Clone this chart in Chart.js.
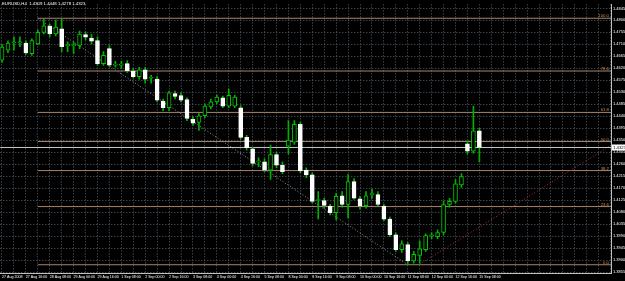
<!DOCTYPE html>
<html>
<head>
<meta charset="utf-8">
<script src="https://cdn.jsdelivr.net/npm/chart.js@4.4.1/dist/chart.umd.min.js"></script>
<style>
  html, body { margin: 0; padding: 0; background: #000; }
  #wrap { width: 625px; height: 281px; position: relative; }
</style>
</head>
<body>
<div id="wrap"><canvas id="chart"></canvas></div>
<script>
// EURUSD H4, 27 Aug 2008 .. 15 Sep 2008
const symbolTitle = 'EURUSD,H4  1.4309 1.4448 1.4278 1.4323';

const opens  = [1.4651,1.4688,1.4716,1.4716,1.4715,1.4675,1.4712,1.4755,1.4779,1.4749,
                1.4768,1.4705,1.4705,1.4706,1.4747,1.4734,1.4724,1.4638,1.4694,1.4632,
                1.4632,1.4638,1.4610,1.4589,1.4614,1.4583,1.4580,1.4497,1.4472,1.4525,
                1.4518,1.4503,1.4429,1.4417,1.4442,1.4475,1.4494,1.4509,1.4478,1.4478,
                1.4472,1.4361,1.4318,1.4269,1.4269,1.4238,1.4296,1.4257,1.4328,1.4343,
                1.4410,1.4238,1.4220,1.4124,1.4124,1.4103,1.4078,1.4142,1.4109,1.4195,
                1.4130,1.4105,1.4146,1.4146,1.4103,1.4054,1.3995,1.3940,1.3959,1.3897,
                1.3918,1.3940,1.3991,1.3988,1.4004,1.4109,1.4121,1.4183,1.4337,1.4309,
                1.4386];
const highs  = [1.4709,1.4723,1.4738,1.4738,1.4723,1.4731,1.4764,1.4805,1.4786,1.4801,
                1.4805,1.4720,1.4720,1.4760,1.4757,1.4749,1.4738,1.4683,1.4705,1.4646,
                1.4646,1.4649,1.4620,1.4624,1.4624,1.4594,1.4590,1.4505,1.4535,1.4535,
                1.4528,1.4509,1.4439,1.4450,1.4487,1.4505,1.4520,1.4516,1.4542,1.4520,
                1.4480,1.4369,1.4324,1.4284,1.4280,1.4332,1.4306,1.4269,1.4424,1.4424,
                1.4417,1.4247,1.4228,1.4158,1.4132,1.4110,1.4151,1.4158,1.4221,1.4206,
                1.4140,1.4158,1.4166,1.4158,1.4110,1.4062,1.4003,1.3973,1.3966,1.3933,
                1.3973,1.3999,1.4003,1.4014,1.4121,1.4132,1.4203,1.4225,1.4347,1.4478,
                1.4395];
const lows   = [1.4642,1.4679,1.4688,1.4701,1.4672,1.4669,1.4709,1.4749,1.4738,1.4742,
                1.4683,1.4683,1.4675,1.4694,1.4727,1.4712,1.4631,1.4631,1.4627,1.4624,
                1.4620,1.4605,1.4583,1.4579,1.4564,1.4564,1.4494,1.4461,1.4461,1.4505,
                1.4494,1.4424,1.4406,1.4387,1.4435,1.4468,1.4487,1.4472,1.4472,1.4472,
                1.4354,1.4313,1.4254,1.4251,1.4232,1.4203,1.4247,1.4225,1.4299,1.4335,
                1.4228,1.4210,1.4114,1.4055,1.4095,1.4070,1.4051,1.4099,1.4058,1.4129,
                1.4092,1.4095,1.4132,1.4103,1.4047,1.3988,1.3933,1.3929,1.3883,1.3889,
                1.3889,1.3933,1.3981,1.3981,1.3996,1.4099,1.4114,1.4173,1.4299,1.4302,
                1.4269];
const closes = [1.4700,1.4715,1.4716,1.4716,1.4678,1.4724,1.4755,1.4780,1.4749,1.4775,
                1.4701,1.4705,1.4705,1.4749,1.4737,1.4722,1.4638,1.4669,1.4632,1.4632,
                1.4632,1.4611,1.4589,1.4614,1.4579,1.4583,1.4501,1.4472,1.4528,1.4515,
                1.4501,1.4432,1.4414,1.4442,1.4478,1.4494,1.4512,1.4478,1.4519,1.4512,
                1.4361,1.4322,1.4263,1.4269,1.4238,1.4296,1.4257,1.4232,1.4351,1.4410,
                1.4235,1.4220,1.4121,1.4124,1.4106,1.4078,1.4140,1.4109,1.4195,1.4133,
                1.4103,1.4142,1.4146,1.4109,1.4054,1.3996,1.3940,1.3961,1.3897,1.3922,
                1.3943,1.3992,1.3991,1.4004,1.4109,1.4121,1.4187,1.4214,1.4309,1.4386,
                1.4323];

const timeLabels = ['27 Aug 2008','27 Aug 16:00','28 Aug 08:00','29 Aug 00:00','29 Aug 16:00',
                    '1 Sep 08:00','2 Sep 00:00','2 Sep 16:00','3 Sep 08:00','4 Sep 00:00',
                    '4 Sep 16:00','5 Sep 08:00','8 Sep 00:00','8 Sep 16:00','9 Sep 08:00',
                    '10 Sep 00:00','10 Sep 16:00','11 Sep 08:00','12 Sep 00:00','12 Sep 16:00',
                    '15 Sep 08:00'];
const priceTicks = [1.4845,1.4800,1.4755,1.4710,1.4665,1.4620,1.4575,1.4530,1.4485,1.4440,
                    1.4395,1.4350,1.4305,1.4260,1.4215,1.4170,1.4125,1.4080,1.4035,1.3990,
                    1.3945,1.3900,1.3855];

// fibonacci retracement (high -> low)
const fibHigh = 1.4808;
const fibLow = 1.3883;
const fibLevels = [0, 23.6, 38.2, 50.0, 61.8, 78.6, 100.0];
const fibStartBar = 6;
const fibEndBar = 68;

// red trendline
const trendBars = [70, 102.1];
const trendPrices = [1.3885, 1.4332];

const lastPrice = 1.4323;

//===============
//==== DATA =====
//===============
const bull = opens.map((o, i) => closes[i] >= o);

const bodies = opens.map((o, i) => ({ x: i, y: [o, closes[i]] }));
const wicks = lows.map((l, i) => ({ x: i, y: [l, highs[i]] }));

const fibColor = '#a88468';
const fibPrice = lvl => fibLow + (fibHigh - fibLow) * lvl / 100;

const fibSets = fibLevels.map(lvl => ({
    type: 'line',
    data: [{ x: fibStartBar, y: fibPrice(lvl) }, { x: 104, y: fibPrice(lvl) }],
    borderColor: fibColor,
    borderWidth: 1,
    pointRadius: 0,
    order: 3
}));

//====================
//==== PLUGINS =======
//====================
const textPlugin = {
    id: 'texts',
    afterDraw(chart) {
        const ctx = chart.ctx;
        const area = chart.chartArea;
        const y = chart.scales.y;
        ctx.save();
        // header
        ctx.font = '4.3px "Liberation Sans"';
        ctx.fillStyle = '#ffffff';
        ctx.textAlign = 'left';
        ctx.textBaseline = 'top';
        ctx.fillText(symbolTitle, 2, 2);

        // fib level labels
        ctx.fillStyle = '#d08c48';
        ctx.textAlign = 'right';
        ctx.textBaseline = 'bottom';
        fibLevels.forEach(lvl => {
            ctx.fillText(lvl.toFixed(1), area.right - 2, y.getPixelForValue(fibPrice(lvl)));
        });

        // current price box
        const py = y.getPixelForValue(lastPrice);
        ctx.fillStyle = '#ffffff';
        ctx.fillRect(area.right + 1, py - 3, 14, 6);
        ctx.fillStyle = '#000000';
        ctx.textAlign = 'left';
        ctx.textBaseline = 'middle';
        ctx.fillText(lastPrice.toFixed(4), area.right + 2, py);
        ctx.restore();
    }
};

const bgPlugin = {
    id: 'bg',
    beforeDraw(chart) {
        const ctx = chart.ctx;
        ctx.save();
        ctx.fillStyle = '#000';
        ctx.fillRect(0, 0, chart.width, chart.height);
        ctx.restore();
    }
};

//====================
//==== CHART =========
//====================
const gridTicks = [];
for (let v = 0; v <= 102; v += 2) gridTicks.push(v);

new Chart(document.getElementById('chart'), {
    type: 'bar',
    data: {
        datasets: [
            {
                label: 'bodies',
                data: bodies,
                backgroundColor: bull.map(b => b ? '#000000' : '#ffffff'),
                borderColor: bull.map(b => b ? '#00c800' : '#ffffff'),
                borderWidth: 1,
                borderSkipped: false,
                barThickness: 4,
                minBarLength: 1,
                grouped: false,
                order: 0
            },
            {
                label: 'wicks',
                data: wicks,
                backgroundColor: '#00b000',
                borderWidth: 0,
                barThickness: 1,
                grouped: false,
                order: 1
            },
            {
                type: 'line',
                label: 'last',
                data: [{ x: -1, y: lastPrice }, { x: 104, y: lastPrice }],
                borderColor: '#c8c8c8',
                borderWidth: 1,
                pointRadius: 0,
                order: 2
            },
            {
                type: 'line',
                label: 'fibline',
                data: [{ x: fibStartBar, y: fibHigh }, { x: fibEndBar, y: fibLow }],
                borderColor: '#9a9a9a',
                borderWidth: 1,
                borderDash: [1, 2],
                pointRadius: 0,
                order: 2
            },
            {
                type: 'line',
                label: 'trend',
                data: trendBars.map((b, i) => ({ x: b, y: trendPrices[i] })),
                borderColor: '#b03030',
                borderWidth: 1,
                borderDash: [1, 2],
                pointRadius: 0,
                order: 2
            },
            ...fibSets
        ]
    },
    options: {
        responsive: true,
        maintainAspectRatio: false,
        animation: false,
        layout: { padding: 0 },
        plugins: {
            legend: { display: false },
            tooltip: { enabled: false }
        },
        scales: {
            x: {
                type: 'linear',
                min: -0.285,
                max: 102.06,
                offset: false,
                afterFit: s => { s.height = 8; },
                afterBuildTicks: s => { s.ticks = gridTicks.map(v => ({ value: v })); },
                ticks: {
                    autoSkip: false,
                    maxRotation: 0,
                    align: 'start',
                    padding: 2,
                    color: '#ffffff',
                    font: { family: 'Liberation Sans', size: 3.6 },
                    callback: v => (v % 4 === 0 && timeLabels[v / 4]) ? timeLabels[v / 4] : ''
                },
                grid: { color: '#56626e', drawTicks: false, offset: false },
                border: { display: true, color: '#c0c0c0', dash: [1, 2] }
            },
            y: {
                position: 'right',
                min: 1.3852,
                max: 1.4860,
                afterFit: s => { s.width = 14; },
                afterBuildTicks: s => { s.ticks = priceTicks.map(v => ({ value: v })); },
                ticks: {
                    padding: 2,
                    color: '#ffffff',
                    font: { family: 'Liberation Sans', size: 4 },
                    callback: v => v.toFixed(4)
                },
                grid: { color: '#56626e', drawTicks: false },
                border: { display: true, color: '#c0c0c0', dash: [1, 2] }
            }
        }
    },
    plugins: [bgPlugin, textPlugin]
});
</script>
</body>
</html>
